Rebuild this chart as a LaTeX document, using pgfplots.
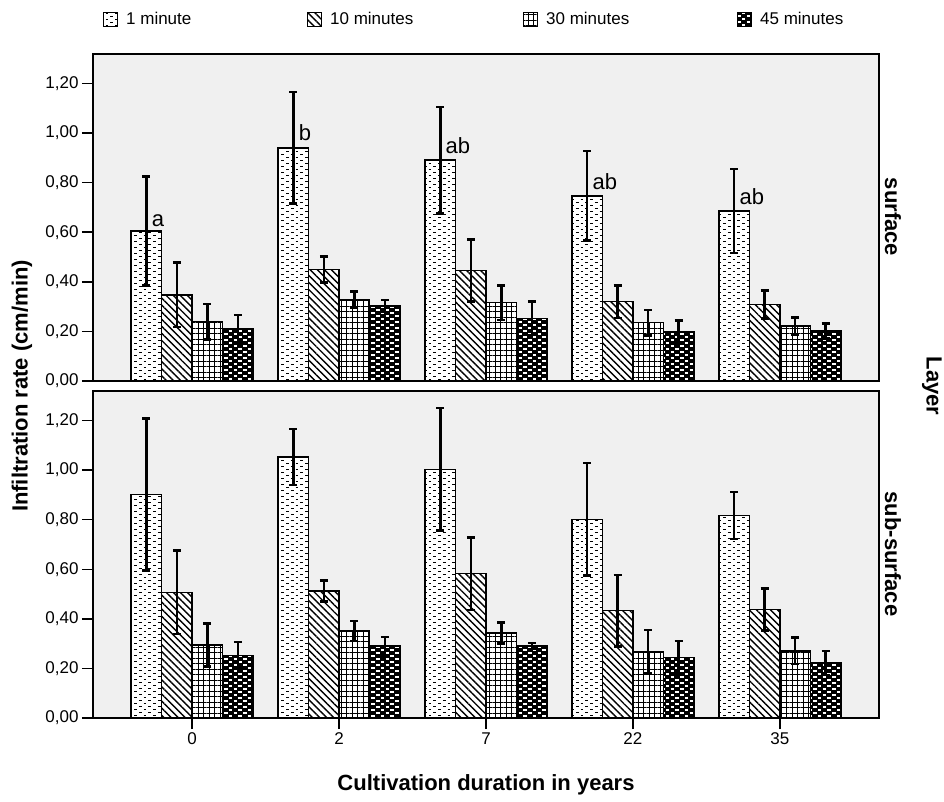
\documentclass[border=0pt]{standalone}
\usepackage{fontspec}
\setmainfont{Liberation Sans}
\usepackage{pgfplots}
\pgfplotsset{compat=1.18}
\usepackage{pgfplotstable}
\usetikzlibrary{patterns,patterns.meta}
\definecolor{bg}{HTML}{F0F0F0}

\pgfdeclarepatternformonly{minidash}{\pgfqpoint{-1pt}{-1pt}}{\pgfqpoint{10.5pt}{7pt}}{\pgfqpoint{9.5pt}{6pt}}{%
  \pgfsetlinewidth{1.6pt}%
  \pgfpathmoveto{\pgfqpoint{1pt}{1.5pt}}\pgfpathlineto{\pgfqpoint{3.8pt}{1.5pt}}%
  \pgfpathmoveto{\pgfqpoint{5.8pt}{4.5pt}}\pgfpathlineto{\pgfqpoint{8.6pt}{4.5pt}}%
  \pgfusepath{stroke}}
\pgfdeclarepatternformonly{bigdash}{\pgfqpoint{-1pt}{-1pt}}{\pgfqpoint{10.5pt}{7pt}}{\pgfqpoint{9.5pt}{6pt}}{%
  \pgfsetlinewidth{2pt}%
  \pgfpathmoveto{\pgfqpoint{0.8pt}{1.5pt}}\pgfpathlineto{\pgfqpoint{4.2pt}{1.5pt}}%
  \pgfpathmoveto{\pgfqpoint{5.6pt}{4.5pt}}\pgfpathlineto{\pgfqpoint{9pt}{4.5pt}}%
  \pgfusepath{stroke}}

\pgfplotstableread{
x m1 e1 m10 e10 m30 e30 m45 e45
0 0.605 0.220 0.347 0.130 0.239 0.071 0.209 0.057
1 0.940 0.225 0.450 0.052 0.327 0.033 0.303 0.024
2 0.891 0.215 0.445 0.125 0.316 0.070 0.253 0.067
3 0.747 0.180 0.320 0.065 0.235 0.051 0.199 0.045
4 0.686 0.170 0.309 0.057 0.222 0.035 0.201 0.030
}\surfacetab

\pgfplotstableread{
x m1 e1 m10 e10 m30 e30 m45 e45
0 0.902 0.307 0.507 0.168 0.294 0.087 0.253 0.053
1 1.052 0.113 0.512 0.043 0.351 0.040 0.290 0.037
2 1.003 0.247 0.582 0.146 0.343 0.042 0.290 0.012
3 0.801 0.227 0.433 0.144 0.267 0.087 0.243 0.067
4 0.817 0.095 0.438 0.085 0.271 0.054 0.222 0.048
}\subtab

\pgfplotsset{
  panel/.style={
    width=786pt, height=327pt, scale only axis,
    xmin=-0.675, xmax=4.675, ymin=0, ymax=1.319,
    ybar=0pt, bar width=30.5pt,
    axis background/.style={fill=bg},
    axis line style={line width=1.4pt, black},
    ytick={0,0.2,0.4,0.6,0.8,1.0,1.2},
    ytick pos=left, xtick pos=bottom,
    tick align=outside, major tick length=11pt,
    tick style={line width=1.5pt, black},
    tick label style={font=\fontsize{17}{20}\selectfont},
    yticklabel style={/pgf/number format/.cd, fixed, fixed zerofill, precision=2, use comma, assume math mode=true},
    xticklabel style={/pgf/number format/assume math mode=true},
  },
  barbase/.style={draw=black, line width=1.4pt,
    legend image code/.code={\draw[##1, line width=1pt] (0pt,-7pt) rectangle (14pt,7pt);},
    error bars/.cd, y dir=both, y explicit,
    error mark=-,
    error bar style={line width=2.5pt, draw=black, solid},
    error mark options={rotate=90, line width=2.5pt, mark size=4pt, draw=black}},
  s1/.style={fill=white, postaction={pattern=minidash, pattern color=black}, barbase},
  s10/.style={fill=white, postaction={pattern={Lines[angle=-45,distance=5pt,line width=1.4pt]}, pattern color=black}, barbase},
  s30/.style={fill=white, postaction={pattern={Hatch[angle=0,distance=5.5pt,line width=0.85pt]}, pattern color=black}, barbase},
  s45/.style={fill=black, postaction={pattern=bigdash, pattern color=white}, barbase},
}

\begin{document}
\begin{tikzpicture}
\useasboundingbox (0,0) rectangle (944pt,801pt);

\begin{axis}[panel, at={(93pt,420pt)}, anchor=south west, xtick=\empty,
  legend columns=4,
  legend style={at={(0.0127,1.107)}, anchor=west, draw=none, fill=none, inner sep=0pt,
    font=\fontsize{17}{20}\selectfont,
    nodes={inner sep=0pt}, column sep=0pt,
    /tikz/every odd column/.append style={column sep=8pt}}]
\addplot[s1] table[x=x, y=m1, y error=e1] {\surfacetab};
\addlegendentry{\makebox[181pt][l]{1 minute}}
\addplot[s10] table[x=x, y=m10, y error=e10] {\surfacetab};
\addlegendentry{\makebox[193pt][l]{10 minutes}}
\addplot[s30] table[x=x, y=m30, y error=e30] {\surfacetab};
\addlegendentry{\makebox[191pt][l]{30 minutes}}
\addplot[s45] table[x=x, y=m45, y error=e45] {\surfacetab};
\addlegendentry{45 minutes}
\begin{scope}[every node/.style={anchor=base west, inner sep=0pt, font=\fontsize{22}{26}\selectfont, xshift=-40.5pt}]
\node at (axis cs:0,0.625) {a};
\node at (axis cs:1,0.972) {b};
\node at (axis cs:2,0.918) {ab};
\node at (axis cs:3,0.773) {ab};
\node at (axis cs:4,0.710) {ab};
\end{scope}
\end{axis}

\begin{axis}[panel, at={(93pt,83pt)}, anchor=south west,
  xtick={0,1,2,3,4}, xticklabels={0,2,7,22,35}]
\addplot[s1] table[x=x, y=m1, y error=e1] {\subtab};
\addplot[s10] table[x=x, y=m10, y error=e10] {\subtab};
\addplot[s30] table[x=x, y=m30, y error=e30] {\subtab};
\addplot[s45] table[x=x, y=m45, y error=e45] {\subtab};
\end{axis}

\begin{scope}[every node/.style={font=\bfseries\fontsize{22}{26}\selectfont}]
\node[rotate=90] at (22pt,415pt) {Infiltration rate (cm/min)};
\node at (486pt,16pt) {Cultivation duration in years};
\node[rotate=-90] at (932pt,415pt) {Layer};
\node[rotate=-90] at (893pt,584pt) {surface};
\node[rotate=-90] at (893pt,247pt) {sub-surface};
\end{scope}
\end{tikzpicture}
\end{document}
